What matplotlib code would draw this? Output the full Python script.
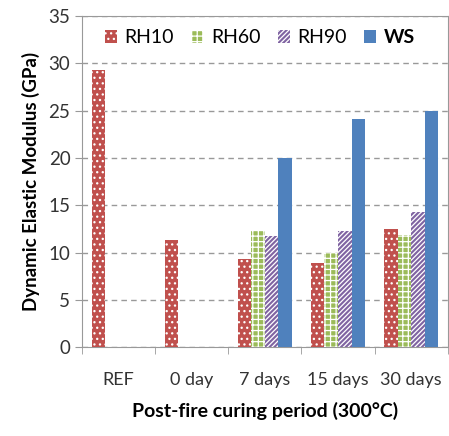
import numpy as np
import matplotlib.pyplot as plt

plt.rcParams['font.family'] = ['Lato', 'DejaVu Sans']
plt.rcParams['hatch.linewidth'] = 0.9

categories = ['REF', '0 day', '7 days', '15 days', '30 days']
series = ['RH10', 'RH60', 'RH90', 'WS']
rh10 = [29.3, 11.3, 9.3, 8.9, 12.5]
rh60 = [np.nan, np.nan, 12.4, 10.0, 11.9]
rh90 = [np.nan, np.nan, 11.7, 12.3, 14.3]
ws = [np.nan, np.nan, 20.0, 24.1, 25.0]

colors = ['#C0504D', '#9BBB59', '#8064A2', '#4F81BD']
hatches = ['...', '+++', '///////', '']

fig = plt.figure(figsize=(4.49, 4.36), dpi=100)
ax = fig.add_axes([0.183, 0.204, 0.814, 0.759])

x = np.arange(len(categories))
w = 0.185
for i, (vals, name) in enumerate(zip([rh10, rh60, rh90, ws], series)):
    pos = x + (i - 1.5) * w
    ax.bar(pos, vals, width=w, color=colors[i], edgecolor='white' if hatches[i] else colors[i],
           linewidth=0, hatch=hatches[i], label=name, zorder=3)

ax.set_ylim(0, 35)
ax.set_yticks(range(0, 36, 5))
ax.set_xlim(-0.5, 4.5)
ax.set_xticks(x)
ax.set_xticklabels(categories)
ax.set_xticks(np.arange(-0.5, 5, 1), minor=True)
ax.tick_params(axis='x', which='major', length=0, labelsize=13, pad=18)
ax.tick_params(axis='x', which='minor', length=5, color='#999999')
ax.tick_params(axis='y', length=5, color='#999999', labelsize=13.5)
for lbl in ax.get_yticklabels() + ax.get_xticklabels():
    lbl.set_color('#333333')

ax.yaxis.grid(True, linestyle=(0, (4, 3)), color='#999999', linewidth=1, zorder=0)
ax.set_axisbelow(True)
for s in ax.spines.values():
    s.set_color('#999999')

ax.set_ylabel('Dynamic Elastic Modulus (GPa)', fontsize=13.5, fontweight='bold', labelpad=6)
ax.set_xlabel('Post-fire curing period (300°C)', fontsize=14, fontweight='bold', labelpad=10)

leg = ax.legend(loc='center', bbox_to_anchor=(0.487, 0.934), ncol=4, frameon=False,
                fontsize=14, handlelength=0.6, handleheight=0.6, handletextpad=0.4,
                columnspacing=0.9, borderpad=0)
leg.get_texts()[3].set_fontweight('bold')

fig.savefig('out.png', dpi=100)
